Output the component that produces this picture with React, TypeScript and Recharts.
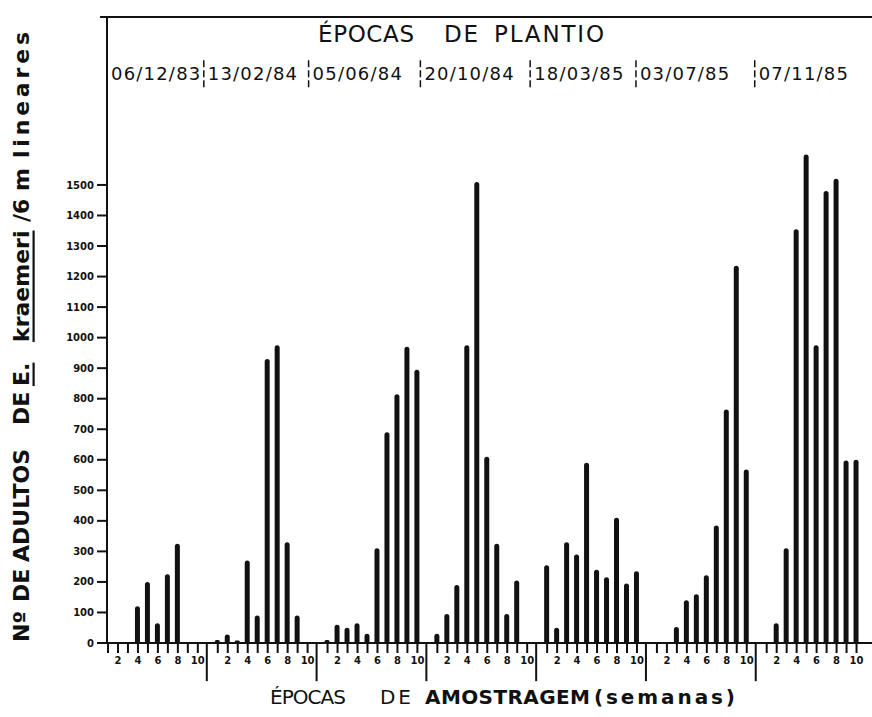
import { BarChart, Bar, XAxis, YAxis, ReferenceLine, Customized } from "recharts";

const FONT = "DejaVu Sans";

// planting dates (one group of 10 weekly samples each)
const plantingDates = ["06/12/83", "13/02/84", "05/06/84", "20/10/84", "18/03/85", "03/07/85", "07/11/85"];

// adults of E. kraemeri per 6 m of row, sampling weeks 1..10 (null = no bar)
const adults8312 = [null, null, null, 120, 200, 65, 225, 325, null, null];
const adults8402 = [10, 28, 8, 270, 90, 930, 975, 330, 90, null];
const adults8406 = [10, 60, 50, 65, 30, 310, 690, 815, 970, 895];
const adults8410 = [30, 95, 190, 975, 1510, 610, 325, 95, 205, null];
const adults8503 = [255, 50, 330, 290, 590, 240, 215, 410, 195, 235];
const adults8507 = [null, null, 52, 140, 160, 222, 385, 765, 1235, 568];
const adults8511 = [null, 65, 310, 1355, 1600, 975, 1480, 1520, 598, 600];

const series = [adults8312, adults8402, adults8406, adults8410, adults8503, adults8507, adults8511];

const yTicks = [0, 100, 200, 300, 400, 500, 600, 700, 800, 900, 1000, 1100, 1200, 1300, 1400, 1500];

const SLOTS = 11; // 10 weeks + gap per planting
const weeks = [1, 2, 3, 4, 5, 6, 7, 8, 9, 10];

// separators (in week-slot units)
const topDividers = [9.6, 20.1, 31.3, 42.3, 52.9, 64.8];
const bottomDividers = [9.9, 20.9, 31.9, 42.9, 53.9, 64.9];

const data: { slot: number; value: number }[] = [];
series.forEach((vals, g) => {
  vals.forEach((v, i) => {
    if (v != null) data.push({ slot: g * SLOTS + i, value: v });
  });
});

const xTicks: number[] = [];
series.forEach((_, g) => weeks.forEach((w) => xTicks.push(g * SLOTS + w - 1)));

const weekLabel = (slot: number) => {
  const w = (slot % SLOTS) + 1;
  return w % 2 === 0 ? String(w) : "";
};

function DateLabel(props: any) {
  const { viewBox, text } = props;
  if (!viewBox) return null;
  return (
    <text
      x={viewBox.x + 4}
      y={viewBox.y + viewBox.height / 2}
      dominantBaseline="central"
      fontFamily={FONT}
      fontSize={18}
      letterSpacing={1.2}
      fill="#111"
    >
      {text}
    </text>
  );
}

// rotated y title, word by word: [text, bottom y, underline, stretched length]
const yTitleWords: [string, number, boolean, number | undefined][] = [
  ["Nº", 642, false, undefined],
  ["DE", 602, false, undefined],
  ["ADULTOS", 562, false, undefined],
  ["DE", 425, false, undefined],
  ["E.", 386, true, undefined],
  ["kraemeri", 342, true, undefined],
  ["/6 m", 222, false, undefined],
  ["lineares", 158, false, 126],
];

function Titles() {
  return (
    <g fill="#111" fontFamily={FONT}>
      <text x={318} y={34} dominantBaseline="central" fontSize={23} textLength={96} lengthAdjust="spacing">ÉPOCAS</text>
      <text x={444} y={34} dominantBaseline="central" fontSize={23} textLength={34} lengthAdjust="spacing">DE</text>
      <text x={494} y={34} dominantBaseline="central" fontSize={23} textLength={110} lengthAdjust="spacing">PLANTIO</text>

      <text x={270} y={697} dominantBaseline="central" fontSize={20} textLength={76} lengthAdjust="spacing">ÉPOCAS</text>
      <text x={380} y={697} dominantBaseline="central" fontSize={20} textLength={31} lengthAdjust="spacing">DE</text>
      <text x={425} y={697} dominantBaseline="central" fontSize={20} fontWeight="bold" textLength={165} lengthAdjust="spacing">AMOSTRAGEM</text>
      <text x={594} y={697} dominantBaseline="central" fontSize={20} fontWeight="bold" textLength={141} lengthAdjust="spacing">(semanas)</text>

      {yTitleWords.map(([w, y0, u, len]) => (
        <text
          key={w + y0}
          transform={`translate(21,${y0}) rotate(-90)`}
          dominantBaseline="central"
          fontSize={22}
          fontWeight="bold"
          textLength={len}
          lengthAdjust={len ? "spacing" : undefined}
          textDecoration={u ? "underline" : undefined}
        >
          {w}
        </text>
      ))}
    </g>
  );
}

export default function App() {
  const domainX: [number, number] = [-0.1, 76.55];
  return (
    <div style={{ position: "absolute", left: 0, top: 0, background: "#fff" }}>
      <BarChart width={872} height={717} data={data} margin={{ top: 17, right: 0, left: 0, bottom: 44 }}>
        <XAxis
          type="number"
          dataKey="slot"
          domain={domainX}
          allowDataOverflow
          ticks={xTicks}
          interval={0}
          tickFormatter={weekLabel}
          tickSize={10}
          tickMargin={4}
          height={30}
          stroke="#111"
          axisLine={{ stroke: "#111", strokeWidth: 2 }}
          tickLine={{ stroke: "#111", strokeWidth: 2 }}
          tick={{ fill: "#111", fontSize: 10, fontWeight: "bold", fontFamily: FONT }}
        />
        <YAxis
          domain={[0, 2050]}
          allowDataOverflow
          ticks={yTicks}
          interval={0}
          width={107}
          tickSize={10}
          tickMargin={3}
          stroke="#111"
          axisLine={{ stroke: "#111", strokeWidth: 2 }}
          tickLine={{ stroke: "#111", strokeWidth: 2 }}
          tick={{ fill: "#111", fontSize: 10, fontWeight: "bold", fontFamily: FONT }}
        />
        <Bar dataKey="value" fill="#111" barSize={5} radius={[2.5, 2.5, 0, 0]} isAnimationActive={false} />

        {/* frame line on top */}
        <ReferenceLine
          segment={[{ x: -0.8, y: 2050 }, { x: 76.55, y: 2050 }]}
          ifOverflow="visible"
          stroke="#111"
          strokeWidth={2}
        />

        {bottomDividers.map((s) => (
          <ReferenceLine
            key={"b" + s}
            segment={[{ x: s, y: 0 }, { x: s, y: -125 }]}
            ifOverflow="visible"
            stroke="#111"
            strokeWidth={2}
          />
        ))}
        <ReferenceLine
          segment={[{ x: -0.1, y: 1820 }, { x: -0.1, y: 1912 }]}
          ifOverflow="visible"
          stroke="none"
          label={<DateLabel text={plantingDates[0]} />}
        />
        {topDividers.map((s, i) => (
          <ReferenceLine
            key={"t" + s}
            segment={[{ x: s, y: 1820 }, { x: s, y: 1912 }]}
            ifOverflow="visible"
            stroke="#111"
            strokeWidth={1.5}
            strokeDasharray="7 3"
            label={<DateLabel text={plantingDates[i + 1]} />}
          />
        ))}
        <Customized component={Titles} />
      </BarChart>
    </div>
  );
}
